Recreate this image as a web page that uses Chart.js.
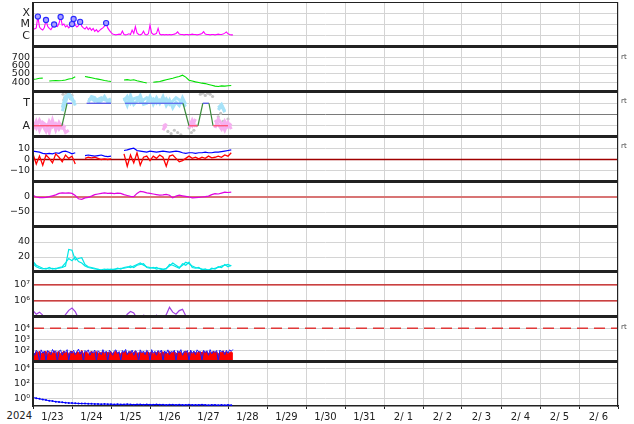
<!DOCTYPE html>
<html>
<head>
<meta charset="utf-8">
<script src="https://cdn.jsdelivr.net/npm/chart.js@4.4.1/dist/chart.umd.min.js"></script>
<style>
  body { margin: 0; background: #fff; }
  #wrap { position: relative; width: 634px; height: 424px; overflow: hidden; font-family: 'DejaVu Sans', sans-serif; }
  canvas { position: absolute; left: 0; }
  .line { position: absolute; background: #222; }
  .rt { position: absolute; left: 621px; font-size: 7px; color: #444; }
  #year { position: absolute; left: 0; width: 32px; top: 410px; line-height: 12px; text-align: right; font-size: 10px; color: #222; }
</style>
</head>
<body>
<div id="wrap">
  <div id="year">2024</div>
</div>
<script>
// time axis: days since 2024-01-23 00:00
const dayLabels = ['1/23', '1/24', '1/25', '1/26', '1/27', '1/28', '1/29', '1/30', '1/31', '2/ 1', '2/ 2', '2/ 3', '2/ 4', '2/ 5', '2/ 6'];

// x-ray flux, hourly
const xrayFlux = [
  4.5e-6, 4.0e-6, 5.0e-6, 5.1e-5, 6.0e-6, 4.0e-6, 3.2e-6, 5.5e-6, 2.5e-5, 7.0e-6, 4.5e-6, 3.5e-6,
  6.0e-6, 1.0e-5, 7.5e-6, 6.5e-6, 1.2e-5, 4.7e-5, 9.0e-6, 1.1e-5, 6.0e-6, 8.0e-6, 5.0e-6, 7.0e-6,
  1.1e-5, 3.1e-5, 9.0e-6, 6.0e-6, 8.0e-6, 1.7e-5, 7.0e-6, 5.0e-6, 4.0e-6, 6.0e-6, 3.5e-6, 5.0e-6,
  3.0e-6, 4.5e-6, 2.5e-6, 3.5e-6, 2.2e-6, 3.0e-6, 4.0e-6, 5.0e-6, 7.0e-6, 1.35e-5, 5.0e-6, 3.0e-6,
  2.0e-6, 1.4e-6, 1.3e-6, 1.2e-6, 1.3e-6, 1.4e-6, 1.3e-6, 2.6e-6, 1.3e-6, 1.2e-6, 1.3e-6, 1.5e-6,
  1.3e-6, 3.2e-6, 1.6e-6, 6.5e-6, 1.8e-6, 1.3e-6, 1.2e-6, 1.4e-6, 2.5e-6, 1.3e-6, 1.2e-6, 1.5e-6,
  9.0e-6, 1.8e-6, 1.3e-6, 1.4e-6, 1.6e-6, 4.5e-6, 1.4e-6, 1.2e-6, 1.3e-6, 1.2e-6, 1.3e-6, 1.2e-6,
  1.3e-6, 1.2e-6, 1.3e-6, 1.4e-6, 1.6e-6, 2.2e-6, 1.4e-6, 1.3e-6, 1.3e-6, 1.2e-6, 1.3e-6, 1.3e-6,
  1.2e-6, 1.3e-6, 1.4e-6, 1.3e-6, 1.3e-6, 1.2e-6, 1.3e-6, 1.4e-6, 1.6e-6, 2.3e-6, 1.4e-6, 1.3e-6,
  1.3e-6, 1.2e-6, 1.3e-6, 1.3e-6, 1.2e-6, 1.3e-6, 1.4e-6, 1.3e-6, 1.3e-6, 1.4e-6, 1.7e-6, 2.2e-6,
  1.5e-6, 1.3e-6, 1.2e-6, 1.2e-6
];
const flareHours = [3, 8, 13, 17, 24, 25, 29, 45];
const flareFlux = [5.1e-5, 2.5e-5, 1.0e-5, 4.7e-5, 1.1e-5, 3.1e-5, 1.7e-5, 1.35e-5];

// everything below is every 2 hours
const windSpeed = [
  435, 440, 448, 450, null, 415, 418, 420, 418, 422, 428, 440, 445, 465, null, null,
  470, 462, 455, 445, 438, 430, 422, 415, 410, null, null, null,
  428, 432, 425, 430, 418, 410, 400, 392, null,
  400, 405, 410, 420, 430, 440, 448, 460, 470, 485, 462,
  425, 415, 405, 398, 390, 385, 375, 365, 355, 350, 358, 355, 360, 362
];

const sectorHours = [0, 17.8, 21, 24, 24.1, 33, 48, 48.1, 56.6, 92.3, 96, 101.5, 104.5, 108.3, 110.8, 120];
const sectorValues = [-1, -1, 1, 1, null, 1, 1, null, 1, 1, -1, -1, 1, 1, -1, -1];
const towardA = [
  null, null, null, null, null, null, null, null, null, 0.6, 1.6, 1.7, 1.3, 1.1, null, null, null,
  1.3, 1.4, 1.2, 1.35, 1.5, 1.3, 1.25, 1.4, null, null, null,
  1.2, 1.6, 1.0, 1.4, 1.5, 1.1, 1.3, 1.5, 1.2, 1.4, 1.0, 1.3, 1.1, 1.4, 0.9, 1.2, 1.5, 1.3, 1.0, 0.7,
  null, null, null, null, null, null, null, null, null, 0.6, 0.9, 0.3, null, null
];
const towardB = [
  null, null, null, null, null, null, null, null, null, 0.3, 1.1, 1.9, 1.5, 0.8, null, null, null,
  1.1, 1.6, 1.5, 1.1, 1.2, 1.6, 1.1, 1.2, null, null, null,
  1.5, 0.8, 1.7, 0.9, 1.2, 1.7, 0.9, 1.0, 1.6, 0.9, 1.5, 1.0, 1.6, 0.8, 1.3, 0.6, 1.1, 0.8, 1.5, 0.9,
  null, null, null, null, null, null, null, null, null, 0.4, 0.8, 0.2, null, null
];
const awayA = [
  -0.7, -1.2, -0.5, -1.0, -1.5, -0.6, -1.1, -0.8, -1.3, -0.9, -1.6, -1.4,
  null, null, null, null, null, null, null, null, null, null, null, null, null, null,
  null, null, null, null, null, null, null, null, null, null, null, null, null, null,
  -0.9, -1.2, null, null, null, null, null, null, -0.6, -1.0, -0.4, null, null, null, null, null,
  -0.5, -0.9, -1.3, -0.6, -1.1, -0.8
];
const awayB = [
  -1.3, -0.6, -1.4, -0.7, -0.9, -1.6, -0.5, -1.4, -0.7, -1.2, -1.0, null,
  null, null, null, null, null, null, null, null, null, null, null, null, null, null,
  null, null, null, null, null, null, null, null, null, null, null, null, null, null,
  -1.4, -0.8, null, null, null, null, null, null, -1.2, -0.5, -1.1, null, null, null, null, null,
  -1.2, -0.4, -0.8, -1.4, -0.7, -1.3
];
const unknownHours = [18.5, 19, 19.5, 20.5, 22, 23, 24, 83, 85, 87, 89, 91, 96, 97.5, 99, 100.5,
  103, 104.5, 106, 107.5, 109, 110.5, 114, 115.5, 117, 118.5, 120];
const unknownValues = [1.8, 1.3, 1.5, 1.9, 1.6, 1.4, 1.7, -1.5, -1.7, -1.4, -1.6, -1.8, -1.2, -1.6, -1.4, -1.0,
  1.8, 1.9, 1.7, 1.9, 1.8, 1.6, -0.2, 0.1, -0.6, -0.9, -0.4];

const bt = [
  7.5, 7.0, 6.5, 5.5, 5.0, 5.5, 5.0, 6.0, 5.5, 7.0, 7.5, 6.5, 5.0, 6.0, null, null,
  3.5, 4.0, 3.5, 3.0, 3.5, 4.0, 3.0, 2.5, 3.0, null, null, null,
  8.0, 8.5, 9.5, 10.0, 8.0, 7.5, 7.0, 6.5, 7.5, 7.0, 6.5, 7.0, 7.5, 7.0, 6.5, 7.0, 7.5, 7.0, 6.0, 5.5,
  6.0, 6.0, 5.5, 6.0, 6.0, 6.5, 6.0, 6.0, 6.5, 6.5, 7.0, 7.5, 8.0, 8.5
];
const bz = [
  5, -4, 3, -5, 4, 1, -3, 5, 2, -2, 4, 1, 3, -4, null, null,
  1.0, 2.0, 1.5, 2.0, 1.0, 0.0, 0.5, 0.0, 0.5, null, null, null,
  5, -6, 4, -3, 6, -5, 2, 3, -1, 3, 1, 4, 2, -6, 3, 4, 1, -2, -1, 1,
  3, 1, 2, 0.5, 2, 1, 3, 1.5, 2, 3, 2, 4, 3, 6
];

const dst = [
  6, 0, -2, -2, -1, 1, 4, 7, 12, 14, 13, 14, 12, 5, -6, -8, -3, -1, 3, 8,
  10, 12, 14, 12, 13, 11, 13, 12, 8, 5, 2, 1, 12, 19, 17, 14, 12, 10, 8, 6,
  7, 9, 6, -3, 3, 6, 4, 2, 0, -3, -2, -1, 0, 1, 3, 8, 11, 10, 13, 16, 15, 16
];

const densityA = [
  14, 9, 7, 5, 4, 6, 4, 5, 5, 6, 8, 30, 29, 16, 18, 19, 10, 7, 6, 5,
  3, 3, 4, 3, 4, 3, 5, 4, 6, 7, 6, 8, 10, 12, 9, 7, 6, 5, 6, 4,
  3, 5, 8, 12, 9, 6, 9, 13, 11, 8, 6, 5, 4, 3, 3, 4, 5, 6, 8, 9, 10, 8
];
const densityB = [
  11, 7, 5, 4, 5, 4, 5, 4, 6, 7, 12, 18, 15, 20, 14, 12, 8, 6, 5, 4,
  4, 2, 3, 4, 3, 4, 4, 5, 5, 6, 8, 6, 9, 10, 11, 6, 5, 6, 4, 5,
  4, 4, 10, 9, 7, 5, 11, 9, 13, 6, 5, 6, 3, 4, 2, 5, 4, 7, 6, 10, 7, 9
];

const electronFlux = [
  2.5e5, 1.5e5, 2.0e5, 1.3e5, 9e4, 7e4, 6e4, 6e4, 7e4, 8e4, 1.4e5, 2.6e5, 3.6e5, 2.2e5, 8e4, 6e4, 8e4, 1.2e5, 7e4, 6e4,
  5e4, 5e4, 5e4, 5e4, 5e4, 5e4, 5e4, 5e4, 7e4, 1.5e5, 2.2e5, 1.8e5, 8e4, 9e4, 1.3e5, 1.1e5, 7e4, 7e4, 1.3e5, 8e4,
  6e4, 1.4e5, 4.0e5, 2.0e5, 1.5e5, 2.5e5, 3.0e5, 1.2e5,
  5e4, 5e4, 5e4, 5e4, 5e4, 5e4, 5e4, 5e4, 5e4, 5e4, 5e4, 5e4, 5e4, 5e4
];

// hourly
const protonRed = [
  70, 55, 85, 60, 95, 50, 75, 65, 90, 45, 80, 70,
  60, 100, 55, 75, 85, 50, 70, 95, 60, 80, 55, 75,
  90, 65, 50, 85, 70, 60, 110, 55, 75, 80, 50, 65,
  95, 60, 70, 85, 55, 75, 60, 90, 50, 80, 70, 65,
  85, 55, 75, 100, 60, 70, 50, 80, 65, 90, 55, 75,
  85, 60, 70, 95, 50, 65, 80, 60, 75, 55, 90, 70,
  60, 85, 50, 75, 65, 95, 55, 70, 80, 60, 75, 50,
  85, 65, 70, 90, 55, 60, 80, 75, 50, 70, 95, 60,
  65, 85, 55, 75, 70, 60, 90, 50, 80, 65, 75, 85,
  55, 70, 60, 95, 65, 80, 50, 75, 70, 100, 60, 85,
  55, 70, 80, 60
];
const protonBlue = [
  90, 40, 110, 75, 12, 120, 60, 95, 14, 105, 70, 45,
  130, 65, 100, 12, 90, 115, 40, 85, 70, 125, 14, 95,
  60, 110, 45, 80, 140, 50, 95, 12, 105, 75, 120, 40,
  85, 65, 115, 14, 100, 70, 45, 125, 60, 90, 12, 110,
  75, 40, 95, 120, 55, 85, 14, 105, 70, 130, 45, 90,
  60, 115, 40, 100, 75, 12, 120, 65, 95, 45, 110, 80,
  14, 125, 60, 90, 40, 105, 70, 115, 12, 95, 55, 120,
  45, 85, 75, 110, 14, 100, 65, 125, 40, 90, 70, 105,
  12, 115, 60, 95, 45, 120, 75, 85, 14, 110, 65, 100,
  40, 125, 55, 90, 70, 105, 12, 115, 80, 95, 45, 110,
  60, 120, 90, 130
];

const lowEnergy = [
  1.2, 1.0, 0.8, 0.65, 0.55, 0.45, 0.4, 0.33, 0.3, 0.27,
  0.24, 0.22, 0.21, 0.2, 0.19, 0.18, 0.18, 0.17, 0.17, 0.16,
  0.16, 0.15, 0.16, 0.15, 0.15, 0.14, 0.15, 0.14, 0.14, 0.15,
  0.14, 0.13, 0.14, 0.14, 0.13, 0.14, 0.13, 0.13, 0.14, 0.13,
  0.13, 0.12, 0.13, 0.13, 0.12, 0.13, 0.12, 0.12, 0.13, 0.12,
  0.12, 0.12, 0.13, 0.12, 0.11, 0.12, 0.12, 0.11, 0.12, 0.11,
  0.12, 0.11
];

// reference levels
const bzZero = 0;
const dstZero = 0;
const electronAlerts = [1e7, 1e6];
const protonAlert = 1e4;

const wrap = document.getElementById('wrap');
const FONT = 'DejaVu Sans';
const GRID = '#d4d4d4';

const hourly = vals => vals.map((v, i) => ({ x: i / 24, y: v }));
const twoHourly = vals => vals.map((v, i) => ({ x: i * 2 / 24, y: v }));
const pairs = (hours, vals) => hours.map((h, i) => ({ x: h / 24, y: vals[i] }));
const level = v => [{ x: 0, y: v }, { x: 15, y: v }];

function line(data, color, width, extra) {
  return Object.assign({ data, borderColor: color, backgroundColor: color, borderWidth: width, pointRadius: 0, spanGaps: false }, extra || {});
}

function noPad(s) {
  s.paddingTop = 0; s.paddingBottom = 0; s.paddingLeft = 0; s.paddingRight = 0;
}

function makePanel(idx, p) {
  const last = idx === 8;
  const cv = document.createElement('canvas');
  cv.width = 634;
  cv.height = last ? 62 : 45;
  cv.style.top = (2 + 45 * idx) + 'px';
  wrap.appendChild(cv);

  new Chart(cv, {
    type: 'line',
    data: { datasets: p.datasets },
    options: {
      responsive: false,
      animation: false,
      events: [],
      layout: { autoPadding: false, padding: { left: 0, right: 16, top: 0, bottom: 0 } },
      plugins: { legend: { display: false }, tooltip: { enabled: false } },
      elements: { line: { tension: 0 } },
      scales: {
        x: {
          type: 'linear', min: 0, max: 15, bounds: 'data',
          afterBuildTicks: s => { s.ticks = dayLabels.concat(['']).map((_, i) => ({ value: i })); },
          afterFit: s => { s.height = last ? 18 : 0; noPad(s); },
          ticks: {
            display: last, autoSkip: false, maxRotation: 0, labelOffset: 19.5, padding: 2,
            color: '#222', font: { family: FONT, size: 10 },
            callback: (v, i) => dayLabels[i] || ''
          },
          grid: { color: GRID, drawTicks: last, tickLength: 3, tickColor: '#222' },
          border: { display: last, color: '#222', width: 1.5 }
        },
        y: {
          type: p.type || 'linear', min: p.min, max: p.max, bounds: 'data',
          afterBuildTicks: s => { s.ticks = p.ticks.map(v => ({ value: v })); },
          afterFit: s => { s.width = 33; noPad(s); },
          ticks: {
            autoSkip: false, padding: 3, color: '#222',
            font: { family: FONT, size: p.fontSize || 9.5 },
            callback: (v, i) => p.labels[i]
          },
          grid: { color: p.gridColor || GRID, drawTicks: false },
          border: { display: false }
        }
      }
    }
  });
}

// 1: x-ray class
makePanel(0, {
  type: 'logarithmic', min: 1e-7, max: 1e-3, ticks: [1e-6, 1e-5, 1e-4], labels: ['C', 'M', 'X'], fontSize: 11,
  datasets: [
    line(pairs(flareHours, flareFlux), '#2828ff', 0, { showLine: false, pointRadius: 2.6, pointBorderWidth: 1.1, pointBackgroundColor: '#a8a0ff', pointBorderColor: '#2828ff', order: 0 }),
    line(hourly(xrayFlux), '#ff00ff', 1.1, { order: 1 })
  ]
});

// 2: solar wind speed
makePanel(1, {
  min: 285, max: 820, ticks: [400, 500, 600, 700], labels: ['400', '500', '600', '700'],
  datasets: [line(twoHourly(windSpeed), '#00e000', 1.1)]
});

// 3: sector
const SECTOR = { T: '#4848e8', A: '#ff4a6a', X: '#3c8c3c' };
makePanel(2, {
  min: -2, max: 2, ticks: [-1, 0, 1], labels: ['A', '', 'T'], fontSize: 11,
  gridColor: c => c.tick && c.tick.value === 0 ? '#7a7a7a' : GRID,
  datasets: [
    line(pairs(sectorHours, sectorValues), SECTOR.X, 1.2, {
      order: 0,
      segment: { borderColor: c => c.p0.parsed.y === c.p1.parsed.y ? (c.p0.parsed.y > 0 ? SECTOR.T : SECTOR.A) : SECTOR.X }
    }),
    line(pairs(unknownHours, unknownValues), '#c4c4c4', 0, { showLine: false, pointRadius: 1.6, pointBorderWidth: 0, order: 3 }),
    line(twoHourly(towardA), '#a6e2f8', 3, { order: 2 }),
    line(twoHourly(towardB), '#a6e2f8', 3, { order: 2 }),
    line(twoHourly(awayA), '#f6b0f0', 3, { order: 2 }),
    line(twoHourly(awayB), '#f6b0f0', 3, { order: 2 })
  ]
});

// 4: IMF
makePanel(3, {
  min: -20, max: 20, ticks: [-10, 0, 10], labels: ['\u221210', '0', '10'],
  datasets: [
    line(twoHourly(bt), '#0000ff', 1.2, { order: 1 }),
    line(twoHourly(bz), '#ff0000', 1.3, { order: 0 }),
    line(level(bzZero), '#a00000', 1.3, { order: 5 })
  ]
});

// 5: geomagnetic index
makePanel(4, {
  min: -100, max: 50, ticks: [-50, 0], labels: ['\u221250', '0'],
  datasets: [
    line(twoHourly(dst), '#e000e0', 1.2, { order: 0 }),
    line(level(dstZero), '#d87474', 2, { order: 5 })
  ]
});

// 6: density
makePanel(5, {
  min: 0, max: 60, ticks: [20, 40], labels: ['20', '40'],
  datasets: [
    line(twoHourly(densityA), '#00e6e6', 1.2),
    line(twoHourly(densityB), '#00e6e6', 1.2)
  ]
});

// 7: electrons
makePanel(6, {
  type: 'logarithmic', min: 1e5, max: 6.3e7, ticks: [1e6, 1e7], labels: ['10\u2076', '10\u2077'],
  datasets: [
    line(twoHourly(electronFlux), '#a040e0', 1.2, { order: 0 }),
    ...electronAlerts.map(v => line(level(v), '#c41010', 1.2, { order: 5 }))
  ]
});

// 8: protons
makePanel(7, {
  type: 'logarithmic', min: 10, max: 1e5, ticks: [1e2, 1e3, 1e4], labels: ['10\u00b2', '10\u00b3', '10\u2074'],
  datasets: [
    line(hourly(protonBlue), '#1a1aff', 1, { order: 0 }),
    line(hourly(protonRed), '#ff0000', 1, { fill: 'start', order: 1 }),
    line(level(protonAlert), '#e03838', 1.5, { borderDash: [11, 6], order: 5 })
  ]
});

// 9: bottom
makePanel(8, {
  type: 'logarithmic', min: 0.085, max: 85000, ticks: [1, 1e2, 1e4], labels: ['10\u2070', '10\u00b2', '10\u2074'],
  datasets: [line(twoHourly(lowEnergy), '#0000ff', 1, { pointRadius: 1, pointBorderWidth: 0, pointBackgroundColor: '#0000ff' })]
});

// frame and panel separators
function bar(left, top, width, height) {
  const d = document.createElement('div');
  d.className = 'line';
  Object.assign(d.style, { left: left + 'px', top: top + 'px', width: width + 'px', height: height + 'px' });
  wrap.appendChild(d);
}
bar(33, 2, 585, 1);
[45, 90, 135, 180, 225, 270, 315, 360].forEach(t => bar(33, t, 585, 3));
bar(32, 2, 2, 405);
bar(617, 2, 1, 405);

[53, 97, 142, 323].forEach(t => {
  const d = document.createElement('div');
  d.className = 'rt';
  d.style.top = t + 'px';
  d.textContent = 'rt';
  wrap.appendChild(d);
});
</script>
</body>
</html>
